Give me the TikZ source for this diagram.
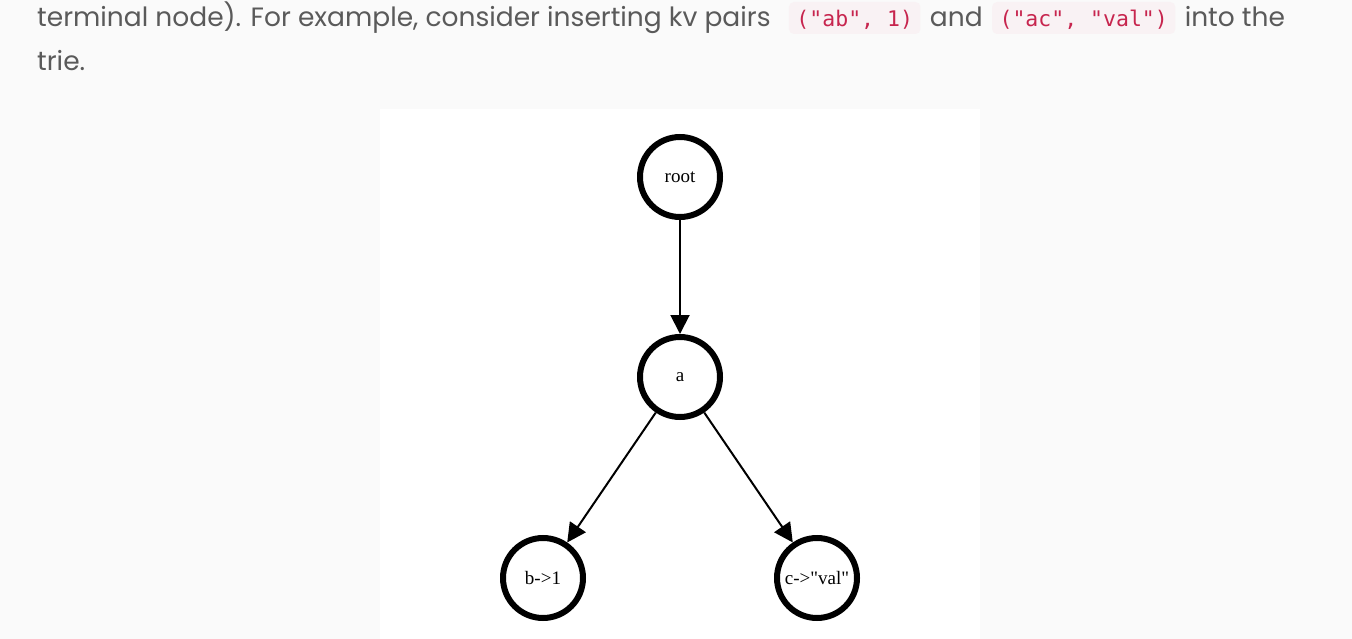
\documentclass[tikz,border=0pt]{standalone}
\usepackage{fontspec}
\setmainfont{Poppins}
\newfontfamily\dotfont{Liberation Serif}
\newfontfamily\codefont{DejaVu Sans Mono}
\usetikzlibrary{arrows.meta}
\definecolor{pagebg}{HTML}{FAFAFA}
\definecolor{bodytext}{HTML}{5A5A5A}
\definecolor{codetext}{HTML}{C7254E}
\definecolor{codebg}{HTML}{F9F2F4}

\begin{document}
\begin{tikzpicture}[x=1pt,y=-1pt]
\tikzstyle{every node}+=[inner sep=0pt]
\tikzstyle{bodyline}=[anchor=base west, text=bodytext, font=\fontsize{26.5}{26.5}\selectfont]
\tikzstyle{codebox}=[anchor=base west, fill=codebg, rounded corners=5pt, text=codetext,
  inner xsep=7.5pt, inner ysep=3pt, text height=22pt, text depth=4pt,
  font=\codefont\fontsize{21.5}{21.5}\selectfont]
\tikzstyle{trienode}=[draw=black, line width=6pt, circle, minimum size=80pt,
  font=\dotfont\fontsize{19}{19}\selectfont]
\tikzstyle{edge}=[black, line width=2pt, -{Triangle[length=19pt,width=19pt]}]
% page and panel
\fill [pagebg] (0,0) rectangle (1352,639);
\fill [white] (380,109) rectangle (980,639);
\useasboundingbox (0,0) rectangle (1352,639);
% text above the picture
\node [bodyline] (line1) at (37,27) {terminal node). For example, consider inserting kv pairs};
\node [codebox] (ab) at ([xshift=18pt]line1.base east) {("ab", 1)};
\node [bodyline] (and) at ([xshift=9pt]ab.base east) {and};
\node [codebox] (ac) at ([xshift=9pt]and.base east) {("ac", "val")};
\node [bodyline] (intothe) at ([xshift=9pt]ac.base east) {into the};
\node [bodyline] (line2) at (37,71) {trie.};
% the trie
\node [trienode] (root) at (680,177) {root};
\node [trienode] (a) at (680,377) {a};
\node [trienode] (b) at (543,578) {b->1};
\node [trienode] (c) at (817,578) {c->"val"};
\draw [edge] (root) -- (a);
\draw [edge] (a) -- (b);
\draw [edge] (a) -- (c);
\end{tikzpicture}
\end{document}
